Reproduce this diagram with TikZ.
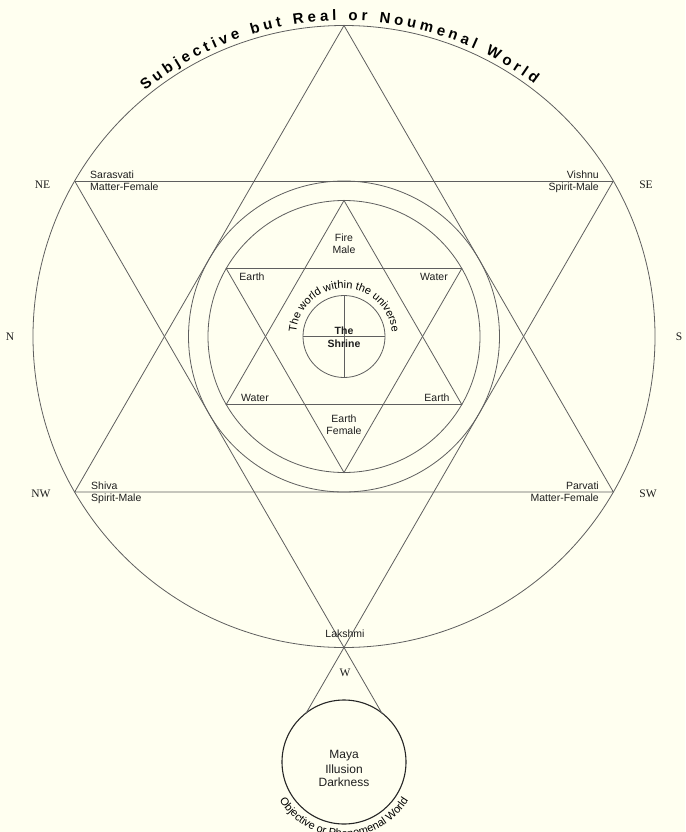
\documentclass[tikz,border=0pt]{standalone}
\usepackage{fontspec}
\setmainfont{Liberation Sans}
\newfontfamily\dirfont{Liberation Serif}
\usetikzlibrary{decorations.text}
\definecolor{bg}{RGB}{255,255,240}
\definecolor{ln}{RGB}{95,95,95}
\definecolor{tx}{RGB}{30,30,30}
\newcommand\topfnt{\fontsize{15}{16}\selectfont\bfseries}
\newcommand\midfnt{\fontsize{11}{12}\selectfont}
\newcommand\botfnt{\fontsize{11}{12}\selectfont}
\begin{document}
\begin{tikzpicture}[x=1pt,y=1pt,
  lbl/.style={font=\fontsize{10.5}{12.5}\selectfont, text=tx, inner sep=0pt},
  bold/.style={font=\fontsize{10.5}{12.5}\selectfont\bfseries, text=tx, inner sep=0pt},
  maya/.style={font=\fontsize{12}{14}\selectfont, text=tx, inner sep=0pt},
  dirl/.style={font=\dirfont\fontsize{11.5}{13}\selectfont, text=tx, inner sep=0pt},
  geo/.style={draw=ln, line width=0.8pt},
  dark/.style={draw=black!85, line width=1.1pt}]
\fill[bg] (0,0) rectangle (685,-832);
\useasboundingbox (0,0) rectangle (685,-832);

% centres
\coordinate (C) at (344,-336.5);
\coordinate (M) at (344,-762);

% big hexagram vertices
\path (C) ++(90:311) coordinate (A1);
\path (C) ++(210:311) coordinate (A2);
\path (C) ++(330:311) coordinate (A3);
\path (C) ++(270:311) coordinate (B1);
\path (C) ++(150:311) coordinate (B2);
\path (C) ++(30:311) coordinate (B3);
\path (B1) ++(240:76.3) coordinate (E1);
\path (B1) ++(300:76.3) coordinate (E2);

% inner hexagram vertices
\path (C) ++(90:136) coordinate (a1);
\path (C) ++(210:136) coordinate (a2);
\path (C) ++(330:136) coordinate (a3);
\path (C) ++(270:136) coordinate (b1);
\path (C) ++(150:136) coordinate (b2);
\path (C) ++(30:136) coordinate (b3);

% shrine cross
\path (C) ++(180:41) coordinate (s1);
\path (C) ++(0:41) coordinate (s2);
\path (C) ++(90:41) coordinate (s3);
\path (C) ++(270:41) coordinate (s4);

% circles
\draw[geo] (C) circle[radius=311];
\draw[geo] (C) circle[radius=155.5];
\draw[geo] (C) circle[radius=136];
\draw[geo] (C) circle[radius=41];
\draw[dark] (M) circle[radius=62];

% big hexagram
\draw[geo] (A1) -- (A2) -- (A3) -- cycle;
\draw[geo] (B2) -- (B3);
\draw[geo] (B3) -- (E1);
\draw[geo] (B2) -- (E2);

% inner hexagram
\draw[geo] (a1) -- (a2) -- (a3) -- cycle;
\draw[geo] (b1) -- (b2) -- (b3) -- cycle;

% cross
\draw[geo] (s1) -- (s2);
\draw[geo] (s3) -- (s4);

% curved texts
\path[decorate, decoration={text along path, text align={fit to path},
  text={|\topfnt|Subjective but Real or Noumenal World}}]
  (C) ++(129:316) arc[start angle=129, end angle=53, radius=316];
\path[decorate, decoration={text along path, text align=center,
  text={|\midfnt|The world within the universe}}]
  (C) ++(178:48) arc[start angle=178, end angle=2, radius=48];
\path[decorate, decoration={text along path, text align=center,
  text={|\botfnt|Objective or Phenomenal World}}]
  (M) ++(200:75) arc[start angle=200, end angle=340, radius=75];

% labels
\node[lbl, anchor=base west] (sar) at (90,-178.5) {Sarasvati};
\node[lbl, anchor=base west] (sarm) at (90,-190.5) {Matter-Female};
\node[lbl, anchor=base east] (vis) at (599,-178.5) {Vishnu};
\node[lbl, anchor=base east] (vism) at (599,-190.5) {Spirit-Male};
\node[lbl, anchor=base west] (shi) at (91,-489) {Shiva};
\node[lbl, anchor=base west] (shim) at (91,-501) {Spirit-Male};
\node[lbl, anchor=base east] (par) at (599,-489) {Parvati};
\node[lbl, anchor=base east] (parm) at (599,-501) {Matter-Female};

\node[dirl] (ne) at (42.5,-184.5) {NE};
\node[dirl] (se) at (646,-184.5) {SE};
\node[dirl] (nw) at (41,-493.5) {NW};
\node[dirl] (sw) at (648,-493.5) {SW};
\node[dirl] (n) at (10,-337) {N};
\node[dirl] (s) at (679,-337) {S};
\node[dirl] (w) at (345,-673) {W};

\node[lbl] (fire) at (344,-237.5) {Fire};
\node[lbl] (male) at (344,-249.5) {Male};
\node[lbl] (earth1) at (252,-277) {Earth};
\node[lbl] (water1) at (434,-277) {Water};
\node[lbl] (water2) at (255,-398) {Water};
\node[lbl] (earth2) at (437,-398) {Earth};
\node[lbl] (earth3) at (344,-419) {Earth};
\node[lbl] (female) at (344,-431) {Female};
\node[lbl] (lak) at (345,-634) {Lakshmi};

\node[bold] (the) at (344,-331) {The};
\node[bold] (shr) at (344,-343.5) {Shrine};

\node[maya] (maya) at (344,-756) {Maya};
\node[maya] (ill) at (344,-769) {Illusion};
\node[maya] (dark) at (344,-782) {Darkness};
\end{tikzpicture}
\end{document}
